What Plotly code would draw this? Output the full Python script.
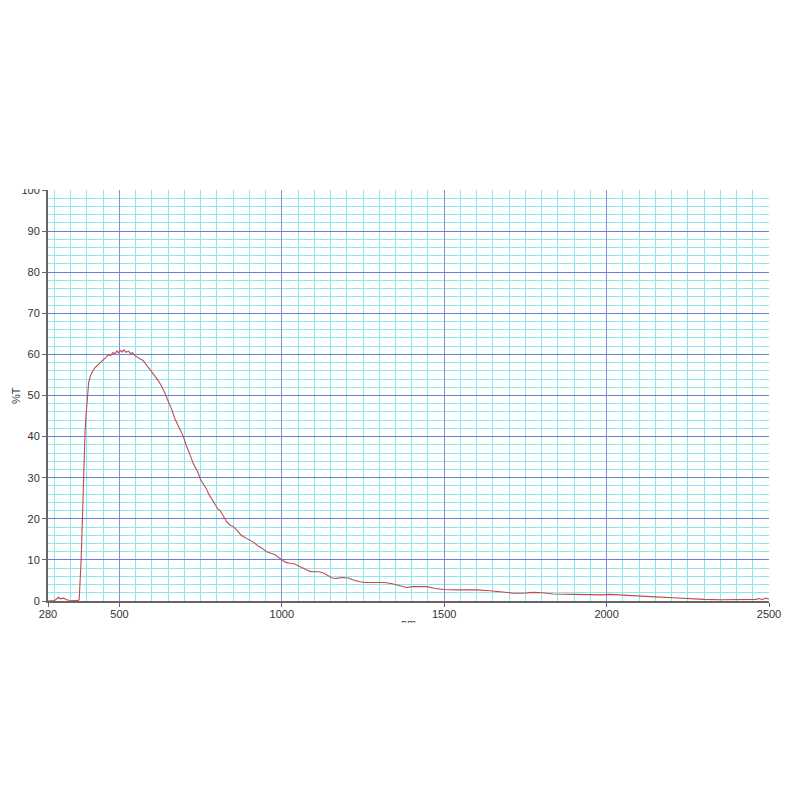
import plotly.graph_objects as go

# spectrum
wavelength = [280, 292, 300, 308, 313, 318, 324, 330, 337, 345, 355, 365, 372, 376, 379, 382, 384, 387,
              389, 392, 394, 397, 399, 402, 405, 410, 415, 425, 435, 445, 452, 458, 466, 472, 480, 486,
              492, 497, 502, 508, 514, 520, 528, 534, 540, 548, 556, 565, 572, 579, 587, 594, 602, 609,
              618, 628, 640, 650, 660, 671, 683, 697, 705, 712, 720, 727, 735, 742, 750, 758, 767, 775,
              785, 795, 803, 810, 820, 830, 840, 851, 862, 875, 890, 902, 915, 928, 940, 953, 965, 978,
              990, 1000, 1012, 1025, 1040, 1055, 1070, 1087, 1100, 1115, 1128, 1140, 1155, 1169, 1185,
              1205, 1220, 1240, 1256, 1280, 1317, 1340, 1365, 1384, 1405, 1430, 1446, 1470, 1497, 1540,
              1600, 1640, 1682, 1715, 1743, 1774, 1800, 1836, 1900, 1950, 1990, 2010, 2050, 2092, 2150,
              2205, 2257, 2300, 2349, 2400, 2440, 2460, 2470, 2480, 2490, 2500]
transmission = [0.0, 0.0, 0.1, 0.6, 0.9, 0.5, 0.7, 0.6, 0.3, 0.2, 0.1, 0.0, 0.1, 0.3, 4.0, 10.0, 15.0, 24.0,
                31.0, 37.0, 41.0, 45.0, 47.5, 50.5, 53.0, 54.6, 55.6, 56.8, 57.6, 58.4, 59.0, 59.3, 59.9, 59.7, 60.4, 60.2,
                60.8, 60.4, 61.0, 60.6, 61.1, 60.5, 60.8, 60.2, 60.4, 59.7, 59.2, 58.8, 58.6, 57.9, 57.1, 56.2, 55.6, 54.9,
                53.8, 52.5, 50.6, 48.6, 46.8, 44.3, 42.2, 40.0, 38.0, 36.8, 35.0, 33.5, 32.4, 31.2, 29.5, 28.6, 27.4, 26.0,
                24.8, 23.3, 22.4, 22.0, 20.8, 19.3, 18.5, 18.1, 17.2, 16.0, 15.3, 14.8, 14.2, 13.3, 12.8, 12.0, 11.7, 11.3,
                10.6, 10.0, 9.4, 9.2, 9.0, 8.4, 7.8, 7.2, 7.1, 7.1, 6.8, 6.2, 5.6, 5.5, 5.7,
                5.6, 5.1, 4.7, 4.5, 4.5, 4.5, 4.2, 3.7, 3.3, 3.5, 3.5, 3.5, 3.1, 2.8, 2.7,
                2.7, 2.5, 2.1, 1.9, 1.9, 2.1, 2.0, 1.7, 1.6, 1.5, 1.5, 1.6, 1.4, 1.2, 1.0,
                0.8, 0.5, 0.4, 0.3, 0.3, 0.3, 0.4, 0.6, 0.3, 0.7, 0.5]

x_ticks = [280, 500, 1000, 1500, 2000, 2500]
y_ticks = [0, 10, 20, 30, 40, 50, 60, 70, 80, 90, 100]

font = dict(family='Liberation Sans', size=11, color='#333333')

fig = go.Figure()
fig.add_trace(go.Scatter(x=wavelength, y=transmission, mode='lines',
                         line=dict(color='#c04a4e', width=1.1), hoverinfo='skip'))

fig.update_xaxes(range=[280, 2500], tickmode='array', tickvals=x_ticks,
                 ticktext=[str(v) for v in x_ticks],
                 showgrid=True, gridcolor='#7e8fe0', gridwidth=1,
                 minor=dict(tickmode='linear', tick0=0, dtick=50, showgrid=True,
                            gridcolor='#8fe6ef', gridwidth=1, ticks=''),
                 showline=True, linecolor='#666666', linewidth=2,
                 ticks='outside', ticklen=4, tickcolor='#666666',
                 tickfont=font, ticklabelstandoff=-2,
                 automargin=False, zeroline=False, fixedrange=True)
fig.update_yaxes(range=[0, 100], tickmode='array', tickvals=y_ticks,
                 showgrid=True, gridcolor='#6a7fd8', gridwidth=1,
                 minor=dict(tickmode='linear', tick0=0, dtick=2, showgrid=True,
                            gridcolor='#8fe6ef', gridwidth=1, ticks=''),
                 showline=True, linecolor='#666666', linewidth=2,
                 ticks='outside', ticklen=4, tickcolor='#666666',
                 tickfont=font,
                 automargin=False, zeroline=False, fixedrange=True)

# axis titles; the original screenshot is cut through "nm" and through the 100 label
fig.add_annotation(text='%T', xref='paper', yref='paper', x=-0.045, y=0.5,
                   xanchor='center', yanchor='middle', textangle=-90,
                   showarrow=False, font=font)
fig.add_annotation(text='nm', xref='paper', yref='paper', x=0.5, y=-0.034,
                   xanchor='center', yanchor='top', showarrow=False, font=font)
fig.add_annotation(text=' ', xref='paper', yref='paper', x=0.5, y=-0.051,
                   xanchor='center', yanchor='top', showarrow=False,
                   width=60, height=30, bgcolor='white', font=font)
fig.add_shape(type='rect', xref='paper', yref='paper', x0=-0.2, x1=1.2, y0=1.0025, y1=1.6,
              fillcolor='white', line=dict(width=0), layer='above')

fig.update_layout(width=800, height=800, showlegend=False,
                  plot_bgcolor='white', paper_bgcolor='white',
                  margin=dict(l=40, r=39, t=182, b=207))

fig.write_html("out.html")
